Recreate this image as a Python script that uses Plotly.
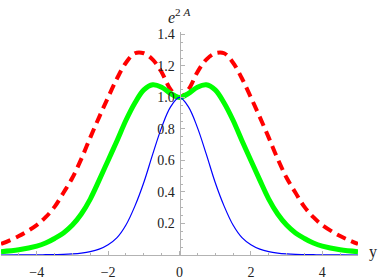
import plotly.graph_objects as go

# x positions (symmetric curves, read on the right half and mirrored)
x_half = [0, 0.25, 0.5, 0.75, 1.0, 1.25, 1.5, 1.75, 2.0, 2.25, 2.5, 2.75, 3.0, 3.25, 3.5, 3.75, 4.0, 4.5, 5.0]

red_half = [1.0, 1.05, 1.16, 1.24, 1.28, 1.28, 1.22, 1.12, 1.0, 0.875, 0.745, 0.61, 0.49, 0.395, 0.305, 0.24, 0.19, 0.12, 0.07]
green_half = [1.0, 1.025, 1.065, 1.08, 1.048, 0.965, 0.855, 0.725, 0.6, 0.475, 0.355, 0.26, 0.19, 0.14, 0.105, 0.076, 0.056, 0.033, 0.021]
blue_half = [1.0, 0.94, 0.81, 0.64, 0.46, 0.31, 0.19, 0.11, 0.065, 0.037, 0.021, 0.012, 0.007, 0.004, 0.003, 0.002, 0.001, 0.0005, 0.0]

x_ticks = [-4, -2, 0, 2, 4]
x_tick_text = ["\u22124", "\u22122", "0", "2", "4"]
y_ticks = [0.2, 0.4, 0.6, 0.8, 1.0, 1.2, 1.4]
y_tick_text = ["0.2", "0.4", "0.6", "0.8", "1.0", "1.2", "1.4"]

def mirror(xs, ys):
    xx = [-v for v in reversed(xs[1:])] + list(xs)
    yy = list(reversed(ys[1:])) + list(ys)
    return xx, yy

xr, yr = mirror(x_half, red_half)
xg, yg = mirror(x_half, green_half)
xb, yb = mirror(x_half, blue_half)

fig = go.Figure()
fig.add_trace(go.Scatter(x=xr, y=yr, mode="lines", line=dict(color="#ff0000", width=4, dash="10px,6px", shape="spline")))
fig.add_trace(go.Scatter(x=xg, y=yg, mode="lines", line=dict(color="#00ff00", width=5, shape="spline")))
fig.add_trace(go.Scatter(x=xb, y=yb, mode="lines", line=dict(color="#0000ff", width=1.2, shape="spline")))

axis_col = "#b3b3b3"
serif = "Times New Roman, Liberation Serif, serif"
tick_font = dict(family=serif, size=14, color="#222222")

fig.update_layout(
    width=382, height=279,
    margin=dict(l=1, r=24, t=32, b=24),
    paper_bgcolor="white", plot_bgcolor="white",
    showlegend=False,
    font=dict(family=serif),
    xaxis=dict(
        range=[-5, 5], showgrid=False, zeroline=False, automargin=False,
        showline=True, linecolor=axis_col, linewidth=1,
        tickmode="array", tickvals=x_ticks, ticktext=x_tick_text,
        ticks="inside", ticklen=4, tickcolor=axis_col, tickwidth=1,
        minor=dict(dtick=0.5, tick0=0, ticks="inside", ticklen=2.5, tickcolor=axis_col, tickwidth=1, showgrid=False),
        tickfont=tick_font, ticklabelstandoff=4,
    ),
    yaxis=dict(
        range=[0, 1.415], showgrid=False, zeroline=False, automargin=False,
        anchor="free", position=0.5,
        showline=True, linecolor=axis_col, linewidth=1,
        tickmode="array", tickvals=y_ticks, ticktext=y_tick_text,
        ticks="inside", ticklen=4, tickcolor=axis_col, tickwidth=1,
        minor=dict(dtick=0.05, tick0=0, ticks="inside", ticklen=2.5, tickcolor=axis_col, tickwidth=1, showgrid=False),
        tickfont=tick_font, ticklabelstandoff=2,
    ),
    annotations=[
        dict(text="<i>e</i><sup>2 <i>A</i></sup>", x=0.5, y=1.0, xref="paper", yref="paper",
             xanchor="center", yanchor="bottom", yshift=4, showarrow=False,
             font=dict(family=serif, size=16, color="#222222")),
        dict(text="y", x=1.0, y=0, xref="paper", yref="paper",
             xanchor="left", yanchor="middle", xshift=9, yshift=3, showarrow=False,
             font=dict(family=serif, size=16, color="#222222")),
    ],
)

fig.write_html("out.html", config={"displayModeBar": False},
               post_script="document.body.style.margin='0';document.body.style.padding='0';")
